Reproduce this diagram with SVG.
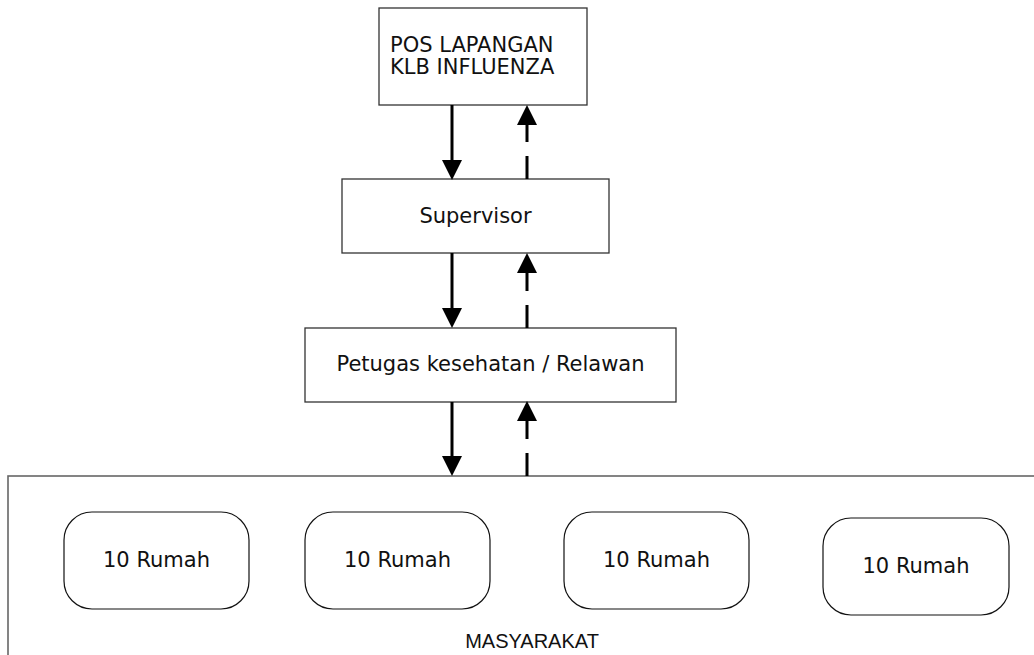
<svg xmlns="http://www.w3.org/2000/svg" width="1034" height="655" viewBox="0 0 1034 655">
<style>
.box{fill:#fff;stroke:#333;stroke-width:1.3}
.rbox{fill:#fff;stroke:#111;stroke-width:1.2}
.outer{fill:none;stroke:#666;stroke-width:1.6}
.t{font-family:"DejaVu Sans",Verdana,sans-serif;font-size:21px;fill:#111}
.tm{text-anchor:middle}
.ta{font-family:"Liberation Sans",Arial,sans-serif;font-size:20px;fill:#111;text-anchor:middle}
.ln{stroke:#000;stroke-width:3;fill:none}
.dash{stroke:#000;stroke-width:3;fill:none;stroke-dasharray:23 14 60}
</style>
<defs>
<marker id="ah" markerUnits="userSpaceOnUse" markerWidth="20" markerHeight="20" viewBox="0 0 19 19" refX="0" refY="9.5" orient="auto">
<path d="M0,0 L19,9.5 L0,19 z" fill="#000"/>
</marker>
</defs>
<g id="masyarakat">
<rect class="outer" x="8" y="476" width="1040" height="200"/>
<text class="ta" x="532" y="648">MASYARAKAT</text>
</g>
<g id="pos">
<rect class="box" x="379" y="8" width="208" height="97"/>
<text class="t" x="390" y="52">POS LAPANGAN</text>
<text class="t" x="390" y="74">KLB INFLUENZA</text>
</g>
<g id="supervisor">
<rect class="box" x="342" y="179" width="267" height="74"/>
<text class="t tm" x="475.5" y="223">Supervisor</text>
</g>
<g id="petugas">
<rect class="box" x="305" y="328" width="371" height="74"/>
<text class="t tm" x="490.5" y="371">Petugas kesehatan / Relawan</text>
</g>
<g id="rumah1">
<rect class="rbox" x="64" y="512" width="185" height="97" rx="28" ry="28"/>
<text class="t tm" x="156.5" y="567">10 Rumah</text>
</g>
<g id="rumah2">
<rect class="rbox" x="305" y="512" width="185" height="97" rx="28" ry="28"/>
<text class="t tm" x="397.5" y="567">10 Rumah</text>
</g>
<g id="rumah3">
<rect class="rbox" x="564" y="512" width="185" height="97" rx="28" ry="28"/>
<text class="t tm" x="656.5" y="567">10 Rumah</text>
</g>
<g id="rumah4">
<rect class="rbox" x="823" y="518" width="186" height="97" rx="28" ry="28"/>
<text class="t tm" x="916" y="573">10 Rumah</text>
</g>
<g id="connectors">
<path class="ln" d="M452,105 L452,160" marker-end="url(#ah)"/>
<path class="dash" d="M527,179 L527,125" marker-end="url(#ah)"/>
<path class="ln" d="M452,253 L452,308" marker-end="url(#ah)"/>
<path class="dash" d="M527,328 L527,273" marker-end="url(#ah)"/>
<path class="ln" d="M452,402 L452,456" marker-end="url(#ah)"/>
<path class="dash" d="M527,476 L527,421" marker-end="url(#ah)"/>
</g>
</svg>
